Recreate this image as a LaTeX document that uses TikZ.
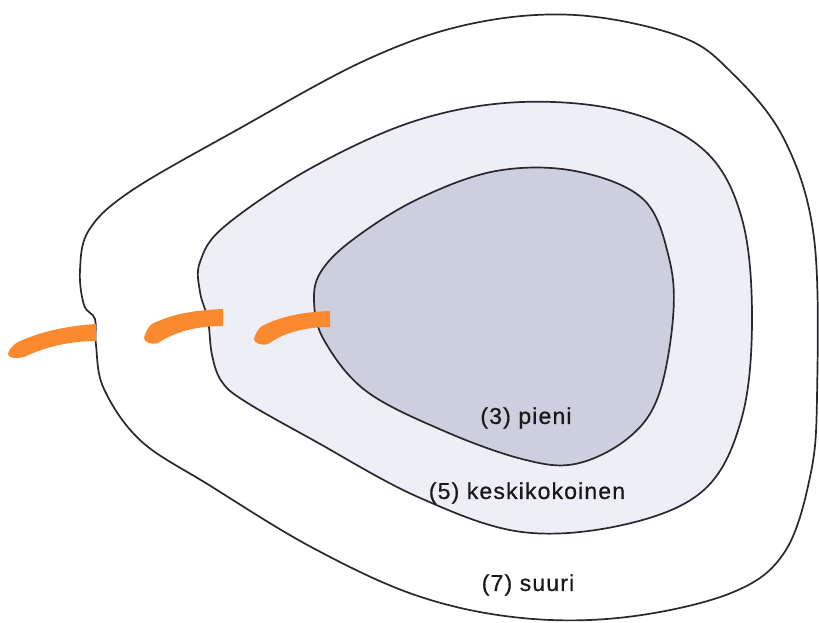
\documentclass[tikz,border=0pt]{standalone}
\usepackage{fontspec}
\newfontfamily\lblfont[LetterSpace=5,FakeBold=0.7]{Liberation Sans}
\definecolor{midfill}{RGB}{237,238,246}
\definecolor{innerfill}{RGB}{204,207,221}
\definecolor{edge}{RGB}{40,40,45}
\definecolor{brush}{RGB}{250,137,48}
\tikzset{
  zone/.style={draw=edge, line width=1.7pt, line join=round},
  lbl/.style={font=\lblfont\fontsize{23}{27}\selectfont, text=black!90, inner sep=0pt},
  stroke/.style={fill=brush, draw=none}
}
\begin{document}
\begin{tikzpicture}[x=1pt,y=-1pt]
\path[use as bounding box, fill=white] (0,0) rectangle (819,623);
% outer zone
\draw[zone, fill=white] plot[smooth cycle, tension=0.6] coordinates {
 (89,230) (80,270) (84,305) (95,319) (96,345) (104,389) (141,441) (209,485)
 (313,548) (418,596) (522,618) (627,617) (731,593) (784,553) (810,477)
 (817,397) (814,238) (784,139) (731,72) (679,36) (575,15) (470,24)
 (366,60) (235,131) (131,191)};
% middle zone
\draw[zone, fill=midfill] plot[smooth cycle, tension=0.6] coordinates {
 (200,262) (200,292) (208,320) (212,355) (222,382) (246,402) (313,440) (418,497)
 (522,532) (627,524) (705,489) (742,417) (752,318) (742,219) (705,151)
 (627,112) (522,102) (418,120) (313,167) (225,226)};
% inner zone
\draw[zone, fill=innerfill] plot[smooth cycle, tension=0.6] coordinates {
 (314,300) (324,340) (366,391) (444,431) (522,459) (575,464) (627,439)
 (658,397) (673,318) (669,258) (643,199) (575,171) (496,171) (418,199)
 (355,238) (322,270)};
% orange strokes
\fill[stroke] (18,342) .. controls (40,332) and (65,326) .. (96,324)
  -- (96,341) .. controls (70,341) and (45,347) .. (24,357)
  .. controls (16,359) and (8,358) .. (8,354)
  .. controls (9,349) and (13,345) .. (18,342) -- cycle;
\fill[stroke] (152,324) .. controls (172,314) and (195,310) .. (223,309)
  -- (223,326) .. controls (198,326) and (176,331) .. (158,343)
  .. controls (151,345) and (144,342) .. (144,338)
  .. controls (145,333) and (148,327) .. (152,324) -- cycle;
\fill[stroke] (262,326) .. controls (282,316) and (303,312) .. (330,311)
  -- (330,327) .. controls (306,327) and (285,332) .. (268,344)
  .. controls (261,346) and (254,343) .. (254,339)
  .. controls (255,334) and (258,329) .. (262,326) -- cycle;
% labels
\node[lbl] (small) at (526,418) {(3) pieni};
\node[lbl] (medium) at (527,493) {(5) keskikokoinen};
\node[lbl] (large) at (528,585) {(7) suuri};
\end{tikzpicture}
\end{document}
